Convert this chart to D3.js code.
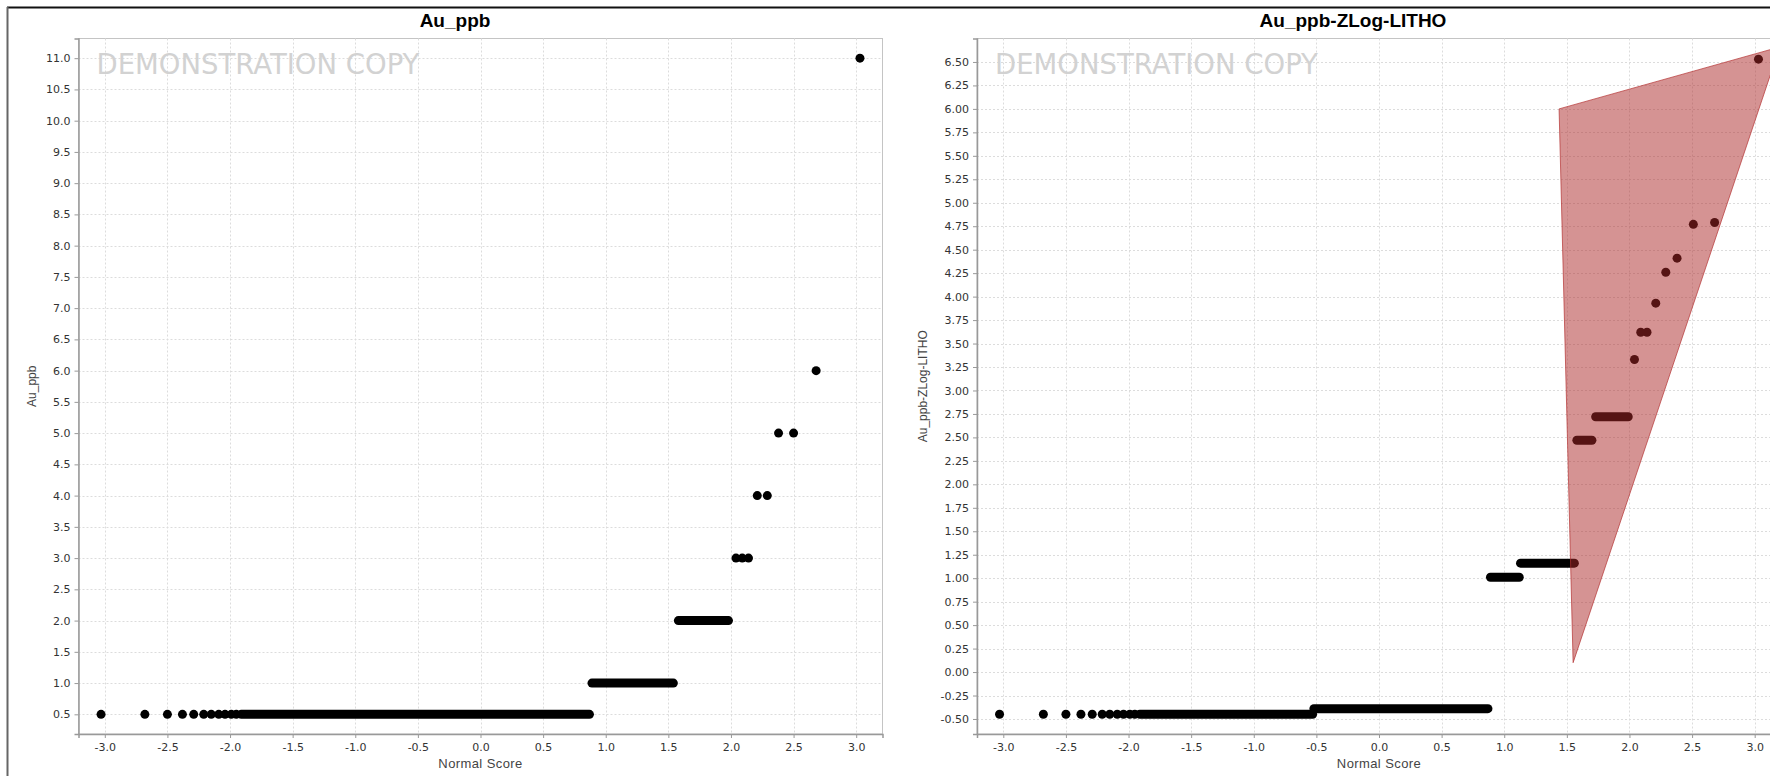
<!DOCTYPE html>
<meta charset="utf-8">
<script src="https://d3js.org/d3.v7.min.js"></script>
<style>
	body{
		margin:0;
		background:#fff;
	}
	.tick text{
		font-family:'DejaVu Sans', sans-serif;
		font-size:11px;
		fill:#333;
	}
</style>
<div id="chart"></div>
<script>

// normal score ticks shared by both panels
var xTicks = [-3.0,-2.5,-2.0,-1.5,-1.0,-0.5,0.0,0.5,1.0,1.5,2.0,2.5,3.0]
var auTicks = [0.5,1.0,1.5,2.0,2.5,3.0,3.5,4.0,4.5,5.0,5.5,6.0,6.5,7.0,7.5,8.0,8.5,9.0,9.5,10.0,10.5,11.0]
var zTicks = [-0.5,-0.25,0,0.25,0.5,0.75,1.0,1.25,1.5,1.75,2.0,2.25,2.5,2.75,3.0,3.25,3.5,3.75,4.0,4.25,4.5,4.75,5.0,5.25,5.5,5.75,6.0,6.25,6.5]

// Au_ppb : single points [normal score, value]
var auPoints = [
	[-3.03,0.5],[-2.68,0.5],[-2.50,0.5],[-2.38,0.5],[-2.29,0.5],[-2.21,0.5],[-2.15,0.5],[-2.09,0.5],[-2.04,0.5],[-1.99,0.5],[-1.95,0.5],
	[2.04,3],[2.09,3],[2.14,3],[2.21,4],[2.29,4],[2.38,5],[2.50,5],[2.68,6],[3.03,11]
]
// runs where the dots overlap into a band: [value, first score, last score]
var auRuns = [[0.5,-1.91,0.87],[1.0,0.89,1.54],[2.0,1.58,1.98]]

// Au_ppb-ZLog-LITHO
var zPoints = [
	[-3.03,-0.45],[-2.68,-0.45],[-2.50,-0.45],[-2.38,-0.45],[-2.29,-0.45],[-2.21,-0.45],[-2.15,-0.45],[-2.09,-0.45],[-2.04,-0.45],[-1.99,-0.45],[-1.95,-0.45],
	[2.04,3.33],[2.09,3.62],[2.14,3.62],[2.21,3.93],[2.29,4.26],[2.38,4.41],[2.51,4.77],[2.68,4.79],[3.03,6.53]
]
var zRuns = [[-0.45,-1.91,-0.53],[-0.39,-0.52,0.87],[1.01,0.89,1.12],[1.16,1.13,1.56],[2.47,1.58,1.70],[2.72,1.73,1.99]]

// highlighted region on the ZLog plot
var zPolygon = [[1.438,6.0],[3.20,6.66],[1.55,0.10]]

var w = 1770
var h = 776

var svg = d3.select("#chart").append("svg").attr("width",w).attr("height",h)

// window frame
svg.append("line").attr("x1",7).attr("x2",w).attr("y1",7.5).attr("y2",7.5).attr("stroke","#111").attr("stroke-width",2)
svg.append("line").attr("x1",7.5).attr("x2",7.5).attr("y1",7).attr("y2",h).attr("stroke","#666").attr("stroke-width",2)

var panels = [
	{title:"Au_ppb", yLabel:"Au_ppb", left:78.5, titleX:455, yLabelX:31.5, yDomain:[0.185,11.315], yTicks:auTicks, yFmt:function(d){return d.toFixed(1)}, points:auPoints, runs:auRuns, polygon:null},
	{title:"Au_ppb-ZLog-LITHO", yLabel:"Au_ppb-ZLog-LITHO", left:977, titleX:1353, yLabelX:922.5, yDomain:[-0.66,6.75], yTicks:zTicks, yFmt:function(d){return d.toFixed(2)}, points:zPoints, runs:zRuns, polygon:zPolygon}
]

var plotTop = 38.5
var pw = 804
var ph = 695.5
var r = 4.5

panels.forEach(function(p){
	drawPanel(p)
})

function drawPanel(p){
	var x = d3.scaleLinear().domain([-3.21,3.21]).range([p.left,p.left+pw])
	var y = d3.scaleLinear().domain(p.yDomain).range([plotTop+ph,plotTop])

	var g = svg.append("g")

	// clip so the polygon can run off the plot
	var clipId = "clip_"+Math.round(p.left)
	svg.append("clipPath").attr("id",clipId).append("rect")
		.attr("x",p.left).attr("y",plotTop).attr("width",pw).attr("height",ph)

	g.append("rect").attr("x",p.left).attr("y",plotTop).attr("width",pw).attr("height",ph)
		.attr("fill","#fff").attr("stroke","#c4c4c4")

	// grid
	g.selectAll(".vgrid").data(xTicks).enter().append("line")
		.attr("x1",function(d){return Math.round(x(d))+0.5}).attr("x2",function(d){return Math.round(x(d))+0.5})
		.attr("y1",plotTop).attr("y2",plotTop+ph)
		.attr("stroke","#dcdcdc").attr("stroke-dasharray","2,2")
	g.selectAll(".hgrid").data(p.yTicks).enter().append("line")
		.attr("y1",function(d){return Math.round(y(d))+0.5}).attr("y2",function(d){return Math.round(y(d))+0.5})
		.attr("x1",p.left).attr("x2",p.left+pw)
		.attr("stroke","#dcdcdc").attr("stroke-dasharray","2,2")

	// watermark
	g.append("text").text("DEMONSTRATION COPY")
		.attr("x",p.left+18).attr("y",74)
		.style("font-family","'DejaVu Sans', sans-serif").style("font-size","27.5px")
		.attr("fill","#d2d2d2")

	var marks = g.append("g").attr("clip-path","url(#"+clipId+")")

	marks.selectAll(".run").data(p.runs).enter().append("line")
		.attr("x1",function(d){return x(d[1])}).attr("x2",function(d){return x(d[2])})
		.attr("y1",function(d){return y(d[0])}).attr("y2",function(d){return y(d[0])})
		.attr("stroke","#000").attr("stroke-width",r*2).attr("stroke-linecap","round")

	marks.selectAll(".dot").data(p.points).enter().append("circle")
		.attr("cx",function(d){return x(d[0])}).attr("cy",function(d){return y(d[1])})
		.attr("r",r).attr("fill","#000")

	if(p.polygon){
		marks.append("path")
			.attr("d",d3.line().x(function(d){return x(d[0])}).y(function(d){return y(d[1])})(p.polygon)+"Z")
			.attr("fill","rgb(172,40,40)").attr("fill-opacity",0.5)
			.attr("stroke","rgb(180,50,50)").attr("stroke-opacity",0.7).attr("stroke-width",1)
	}

	// axes
	var xAxis = d3.axisBottom(x).tickValues(xTicks).tickSize(4).tickPadding(5).tickFormat(function(d){return d.toFixed(1)})
	var yAxis = d3.axisLeft(y).tickValues(p.yTicks).tickSize(4).tickPadding(4).tickFormat(p.yFmt)

	var xg = svg.append("g").attr("transform","translate(0,"+(plotTop+ph)+")").call(xAxis)
	var yg = svg.append("g").attr("transform","translate("+p.left+",0)").call(yAxis)
	xg.select(".domain").attr("stroke","#999").attr("stroke-width",1.5)
	yg.select(".domain").attr("stroke","#999").attr("stroke-width",1.5)
	svg.selectAll(".tick line").attr("stroke","#999")

	// titles
	svg.append("text").text(p.title)
		.attr("x",p.titleX).attr("y",27).attr("text-anchor","middle")
		.style("font-family","'Liberation Sans', sans-serif").style("font-size","19px").style("font-weight","bold")
		.attr("fill","#000")

	svg.append("text").text("Normal Score")
		.attr("x",p.left+pw/2).attr("y",768).attr("text-anchor","middle")
		.style("font-family","'Liberation Sans', sans-serif").style("font-size","13px").style("letter-spacing","0.4px")
		.attr("fill","#444")

	svg.append("text").text(p.yLabel)
		.attr("transform","translate("+(p.yLabelX+4)+","+(plotTop+ph/2)+") rotate(-90)")
		.attr("text-anchor","middle")
		.style("font-family","'Liberation Sans', sans-serif").style("font-size","12px")
		.attr("fill","#444")
}

</script>
